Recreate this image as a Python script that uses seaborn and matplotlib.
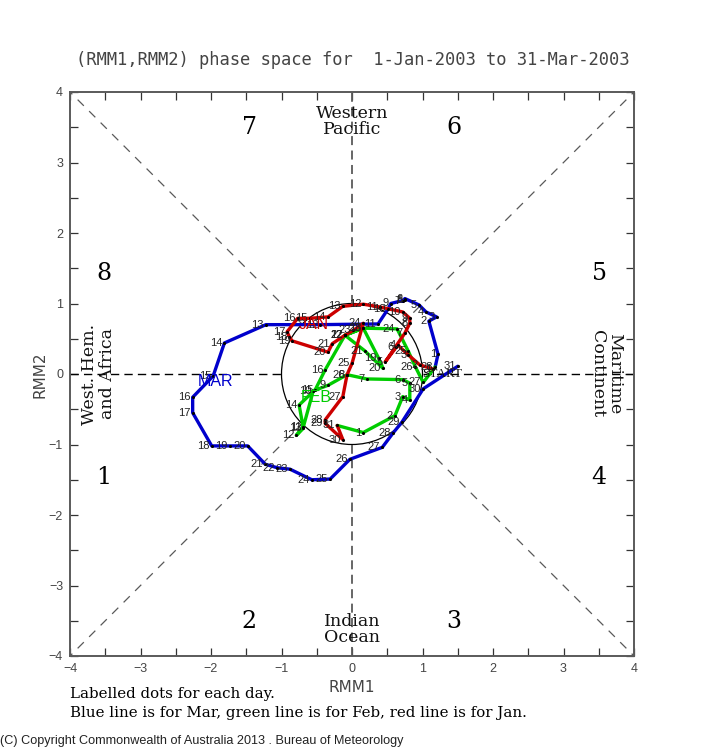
import numpy as np
import pandas as pd
import matplotlib
matplotlib.use("Agg")
import matplotlib.pyplot as plt
import seaborn as sns

# RMM phase space values, one point per day
jan_rmm1 = [1.15, 0.96, 0.80, 0.65, 0.47, 0.62, 0.75, 0.82, 0.82, 0.72, 0.40, 0.16, -0.13, -0.34, -0.60, -0.77,
            -0.92, -0.89, -0.85, -0.34, -0.28, -0.10, 0.02, 0.16, 0.00, -0.07, -0.13, -0.38, -0.38, -0.13, -0.21]
jan_rmm2 = [0.07, 0.13, 0.27, 0.41, 0.17, 0.39, 0.58, 0.72, 0.79, 0.88, 0.95, 0.99, 0.96, 0.81, 0.79, 0.79,
            0.60, 0.53, 0.47, 0.31, 0.43, 0.55, 0.62, 0.72, 0.15, -0.01, -0.32, -0.65, -0.70, -0.93, -0.73]
jan_days = list(range(1, 32))

feb_rmm1 = [0.16, 0.61, 0.72, 0.82, 0.82, 0.72, 0.21, -0.07, -0.34, -0.55, -0.69, -0.79, -0.69, -0.75,
            -0.52, -0.38, -0.10, 0.16, 0.38, 0.44, 0.18, -0.10, 0.16, 0.64, 0.80, 0.90, 1.01, 1.18]
feb_rmm2 = [-0.83, -0.59, -0.32, -0.37, -0.13, -0.08, -0.07, -0.01, -0.16, -0.24, -0.75, -0.87, -0.77, -0.44,
            -0.22, 0.06, 0.55, 0.65, 0.22, 0.08, 0.33, 0.55, 0.65, 0.64, 0.32, 0.10, -0.12, 0.10]
feb_days = list(range(1, 29))

mar_rmm1 = [1.22, 1.09, 1.20, 1.05, 0.95, 0.75, 0.72, 0.75, 0.55, 0.51, 0.37, -0.45, -1.22, -1.81, -1.97, -2.26,
            -2.26, -1.99, -1.73, -1.48, -1.23, -1.06, -0.88, -0.57, -0.31, -0.03, 0.43, 0.58, 0.71, 1.01, 1.50]
mar_rmm2 = [0.28, 0.75, 0.81, 0.88, 0.98, 1.07, 1.03, 1.05, 1.00, 0.92, 0.71, 0.70, 0.70, 0.44, -0.03, -0.33,
            -0.55, -1.02, -1.02, -1.02, -1.28, -1.33, -1.35, -1.50, -1.49, -1.21, -1.04, -0.84, -0.68, -0.21, 0.11]
mar_days = list(range(1, 32))

ticks = [-4, -3, -2, -1, 0, 1, 2, 3, 4]
minor_ticks = [-3.5, -2.5, -1.5, -0.5, 0.5, 1.5, 2.5, 3.5]

# line of a month starts at the last day of the month before
months = [("MAR", mar_rmm1, mar_rmm2, mar_days, "#0000cc", (-1.94, -0.11), feb_rmm1[-1], feb_rmm2[-1]),
          ("FEB", feb_rmm1, feb_rmm2, feb_days, "#00cc00", (-0.50, -0.34), jan_rmm1[-1], jan_rmm2[-1]),
          ("JAN", jan_rmm1, jan_rmm2, jan_days, "#cc0000", (-0.55, 0.70), None, None)]

sns.set_style("white")
plt.rcParams["font.family"] = ["Liberation Sans", "DejaVu Sans"]

fig = plt.figure(figsize=(7.05, 7.5), dpi=100)
ax = fig.add_axes([70 / 705, 94 / 750, 564 / 705, 564 / 750])

grey = "#5a5a5a"

# guide lines stop at the unit circle
r = 1.0
d = r * np.sqrt(0.5)
ax.plot([-4, -r], [0, 0], color="black", lw=1, dashes=(6, 3.7))
ax.plot([r, 4], [0, 0], color="black", lw=1, dashes=(6, 3.7))
ax.plot([0, 0], [-4, -r], color=grey, lw=1.3, dashes=(5, 3))
ax.plot([0, 0], [r, 4], color=grey, lw=1.3, dashes=(5, 3))
for sx, sy in [(1, 1), (1, -1), (-1, 1), (-1, -1)]:
    ax.plot([sx * d, sx * 4], [sy * d, sy * 4], color=grey, lw=0.9, dashes=(7, 6))
ax.add_patch(plt.Circle((0, 0), r, fill=False, color="black", lw=0.9))

for name, xs, ys, days, col, lab, x0, y0 in months:
    df = pd.DataFrame({"rmm1": xs, "rmm2": ys, "day": days})
    line_df = df
    if x0 is not None:
        line_df = pd.concat([pd.DataFrame({"rmm1": [x0], "rmm2": [y0], "day": [0]}), df])
    sns.lineplot(data=line_df, x="rmm1", y="rmm2", sort=False, estimator=None, color=col, lw=2.4,
                 ax=ax, zorder=3, legend=False)
    sns.scatterplot(data=df, x="rmm1", y="rmm2", color="black", s=5, linewidth=0, ax=ax, zorder=4, legend=False)
    for x, y, day in zip(xs, ys, days):
        ax.annotate(str(day), (x, y), xytext=(-1.5, 0), textcoords="offset points", ha="right", va="center",
                    fontsize=8, color="#222222", zorder=5)
    ax.text(lab[0], lab[1], name, color=col, fontsize=11.5, ha="center", va="center", zorder=6)

ax.text(1.0, 0.0, "START", family="Liberation Serif", fontsize=9.5, color="#111111", ha="left", va="center", zorder=6)

ax.set_xlim(-4, 4)
ax.set_ylim(-4, 4)
ax.set_aspect("equal")
ax.set_xticks(ticks)
ax.set_yticks(ticks)
ax.set_xticks(minor_ticks, minor=True)
ax.set_yticks(minor_ticks, minor=True)
ax.tick_params(which="both", direction="in", length=6, width=0.9, color="#333333", top=True, right=True,
               bottom=True, left=True)
ax.tick_params(which="major", labelsize=9, labelcolor="#444444", pad=5)
for s in ax.spines.values():
    s.set_color(grey)
    s.set_linewidth(1.4)
ax.set_xlabel("")
ax.set_ylabel("")


def px_text(x, y, s, **kw):
    fig.text(x / 705, 1 - y / 750, s, ha=kw.pop("ha", "center"), va=kw.pop("va", "center"), **kw)


# phase numbers
serif = "DejaVu Serif"
for n, x, y in [("7", 249, 127), ("6", 454, 127), ("8", 104, 273), ("5", 599, 273),
                ("1", 104, 478), ("4", 599, 478), ("2", 249, 622), ("3", 454, 622)]:
    px_text(x, y, n, family=serif, fontsize=17, color="black")

# region names
px_text(352, 113, "Western", family=serif, fontsize=12.5, color="#111111")
px_text(352, 129, "Pacific", family=serif, fontsize=12.5, color="#111111")
px_text(352, 622, "Indian", family=serif, fontsize=12.5, color="#111111")
px_text(352, 637, "Ocean", family=serif, fontsize=12.5, color="#111111")
px_text(90, 374, "West. Hem.", family=serif, fontsize=12.5, color="#111111", rotation=90)
px_text(107, 374, "and Africa", family=serif, fontsize=12.5, color="#111111", rotation=90)
px_text(615, 374, "Maritime", family=serif, fontsize=12.5, color="#111111", rotation=-90)
px_text(598, 374, "Continent", family=serif, fontsize=12.5, color="#111111", rotation=-90)

# title and axis names
px_text(353, 60, "(RMM1,RMM2) phase space for  1-Jan-2003 to 31-Mar-2003", family="DejaVu Sans Mono",
        fontsize=12.3, color="#444444")
px_text(352, 688, "RMM1", family="DejaVu Sans", fontsize=11, color="#444444")
px_text(40, 375, "RMM2", family="DejaVu Sans", fontsize=11, color="#444444", rotation=90)

# notes
px_text(70, 694, "Labelled dots for each day.", family=serif, fontsize=10.8, color="black", ha="left")
px_text(70, 713, "Blue line is for Mar, green line is for Feb, red line is for Jan.", family=serif,
        fontsize=10.8, color="black", ha="left")
px_text(0, 741, "(C) Copyright Commonwealth of Australia 2013 . Bureau of Meteorology", fontsize=9.1,
        color="#222222", ha="left")

fig.savefig("out.png", dpi=100)
